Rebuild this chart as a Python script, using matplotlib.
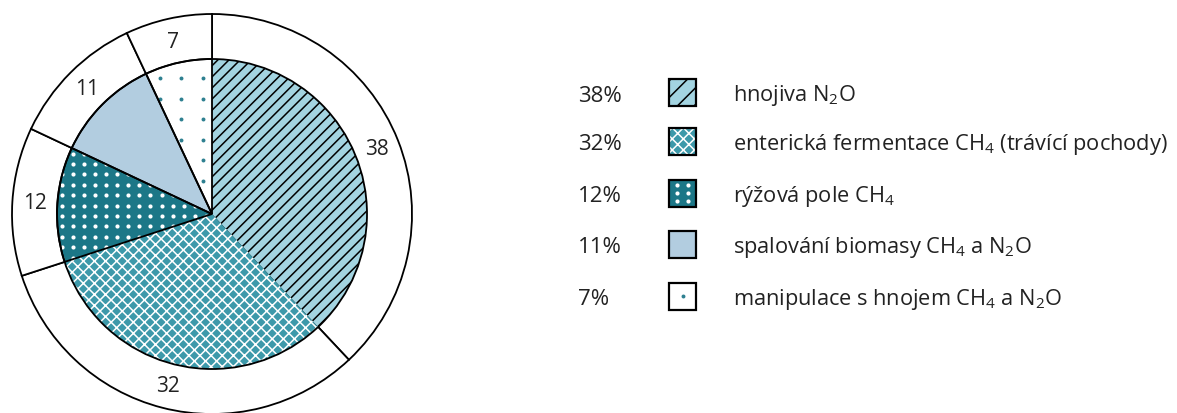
import numpy as np
import matplotlib.pyplot as plt
from matplotlib.patches import Rectangle, Circle

plt.rcParams['font.family'] = 'Open Sans'
plt.rcParams['mathtext.fontset'] = 'custom'
plt.rcParams['mathtext.rm'] = 'Open Sans'
plt.rcParams['mathtext.it'] = 'Open Sans:italic'
plt.rcParams['mathtext.bf'] = 'Open Sans:bold'
plt.rcParams['hatch.linewidth'] = 1.1

# data
values = [38, 32, 12, 11, 7]
percent_labels = ["38%", "32%", "12%", "11%", "7%"]
names = [
    r"hnojiva N$_\mathregular{2}$O",
    r"enterická fermentace CH$_\mathregular{4}$ (trávící pochody)",
    r"rýžová pole CH$_\mathregular{4}$",
    r"spalování biomasy CH$_\mathregular{4}$ a N$_\mathregular{2}$O",
    r"manipulace s hnojem CH$_\mathregular{4}$ a N$_\mathregular{2}$O",
]

# styles
fill_colors = ["#a3d4e1", "#3d99aa", "#1c7787", "#b2cde0", "white"]
pie_hatches = ["///", "xxx", "", "", ""]
box_hatches = ["//", "xxx", "", "", ""]
hatch_colors = ["black", "white", "white", "white", "white"]
dot_color = "#2e8090"
text_color = "#222222"

W, H = 1177, 414
CX, CY = 212, H - 215
R_IN, R_OUT = 155, 200

fig = plt.figure(figsize=(W / 100, H / 100), dpi=100)
ax = fig.add_axes([0, 0, 1, 1])

# outer ring with numbers (drawn first, inner pie covers its middle)
outer, _, nums = ax.pie(values, radius=R_OUT, center=(CX, CY), startangle=90,
                        counterclock=False, colors=["white"] * len(values),
                        wedgeprops=dict(edgecolor="black", linewidth=1.3),
                        autopct=lambda p: f"{p:.0f}", pctdistance=0.885,
                        textprops=dict(fontsize=15, color=text_color))

# inner coloured pie
inner, _ = ax.pie(values, radius=R_IN, center=(CX, CY), startangle=90,
                  counterclock=False, colors=fill_colors,
                  wedgeprops=dict(linewidth=0))
for w, h, hc in zip(inner, pie_hatches, hatch_colors):
    w.set_edgecolor(hc)
    w.set_hatch(h)
    w.set_linewidth(0)

# dot textures
gx, gy = np.meshgrid(np.arange(73 - 11.07 * 2, CX + 5, 11.07),
                     np.arange(165 - 10.4 * 4, 400, 10.4))
sc = ax.scatter(gx.ravel(), H - gy.ravel(), s=9, color="white", linewidths=0)
sc.set_clip_path(inner[2])

gx, gy = np.meshgrid(np.arange(202.5, 130, -21.5), np.arange(79, 240, 20.5))
sc = ax.scatter(gx.ravel(), H - gy.ravel(), s=8, color=dot_color, linewidths=0)
sc.set_clip_path(inner[4])

# black edges inside the pie (no line between the two hatched slices)
edges, _ = ax.pie(values, radius=R_IN, center=(CX, CY), startangle=90,
                  counterclock=False, colors=["none"] * len(values),
                  wedgeprops=dict(edgecolor="black", linewidth=1.3, zorder=3))
edges[0].set_visible(False)
edges[1].set_visible(False)
ax.add_patch(Circle((CX, CY), R_IN, fill=False, edgecolor="black",
                    linewidth=1.3, zorder=3))

# legend
row_y = [93.5, 142, 194, 245.5, 297]
for i in range(len(values)):
    yc = H - row_y[i]
    ax.text(578, yc - 8, percent_labels[i], ha="left", va="baseline",
            fontsize=16, color=text_color)
    ax.text(733, yc - 8, names[i], ha="left", va="baseline",
            fontsize=15.7, color=text_color)
    ax.add_patch(Rectangle((669, yc - 13.5), 27, 27, facecolor=fill_colors[i],
                           edgecolor=hatch_colors[i], hatch=box_hatches[i],
                           linewidth=0))
    if i == 2:
        bx, by = np.meshgrid([677, 688], [yc + 8, yc, yc - 8])
        ax.scatter(bx.ravel(), by.ravel(), s=9, color="white", linewidths=0, zorder=3)
    if i == 4:
        ax.scatter([682.5], [yc], s=8, color=dot_color, linewidths=0, zorder=3)
    ax.add_patch(Rectangle((669, yc - 13.5), 27, 27, facecolor="none",
                           edgecolor="black", linewidth=1.6, zorder=4))

ax.set_xlim(0, W)
ax.set_ylim(0, H)
ax.set_aspect("equal")
ax.axis("off")

fig.savefig("out.png", dpi=100)
